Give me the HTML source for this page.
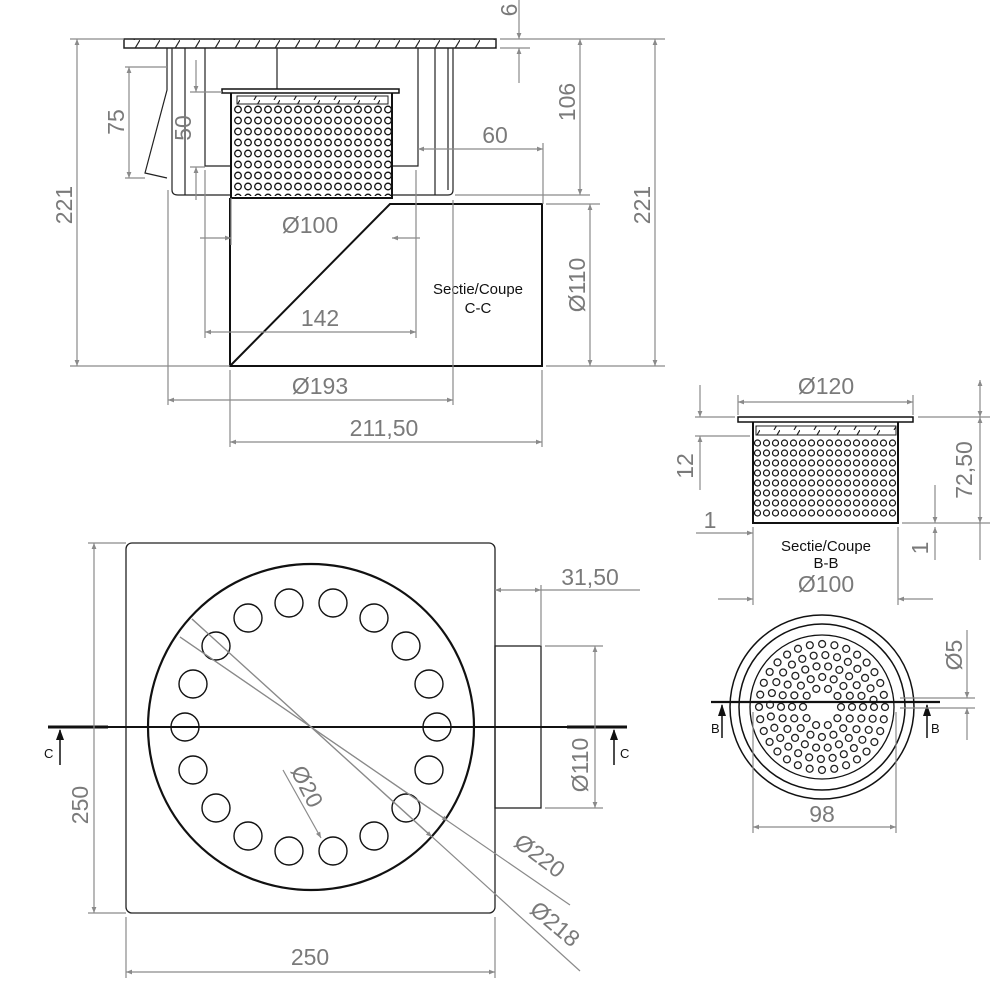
<!DOCTYPE html>
<html><head><meta charset="utf-8"><style>
html,body{margin:0;padding:0;background:#fff}
svg{display:block}
text{font-family:"Liberation Sans",sans-serif}
.d{stroke:#8a8a8a;stroke-width:1.2;fill:none}
.t{fill:#7a7a7a;font-size:23px}
.k{stroke:#111;stroke-width:2;fill:none}
.k1{stroke:#222;stroke-width:1.2;fill:none}
</style></head><body>
<svg width="1000" height="1000" viewBox="0 0 1000 1000" xmlns="http://www.w3.org/2000/svg">
<defs>
<marker id="a" viewBox="0 0 10 10" refX="10" refY="5" markerWidth="10" markerHeight="6" orient="auto-start-reverse" markerUnits="userSpaceOnUse"><path d="M0,1 L10,5 L0,9z" fill="#8a8a8a"/></marker>
<pattern id="perf" x="233" y="104" width="10" height="11" patternUnits="userSpaceOnUse"><circle cx="5" cy="5.5" r="3.3" fill="none" stroke="#111" stroke-width="1.3"/></pattern>
<pattern id="perf2" x="753" y="438" width="9" height="10" patternUnits="userSpaceOnUse"><circle cx="4.5" cy="5" r="3" fill="none" stroke="#111" stroke-width="1.2"/></pattern>
<pattern id="hatch" width="20" height="10" patternUnits="userSpaceOnUse"><path d="M14,10 L20,0" stroke="#222" stroke-width="1.2"/></pattern>
</defs>

<!-- ===== Section C-C ===== -->
<rect x="124" y="39" width="372" height="9" fill="url(#hatch)" stroke="#222" stroke-width="1.5"/>
<path class="k1" d="M167,48 L167,90 L145,173 L167,178 M172,48 L172,190 Q172,195 178,195 L230,195"/>
<path class="k1" d="M205,48 L205,166 L231,166 M418,48 L418,166 L392,166 M277,48 L277,90"/>
<path class="k1" d="M453,48 L453,190 Q453,195 448,195 L392,195 M448,48 L448,190"/>
<path class="k1" d="M185,48 L185,195 M435,48 L435,195"/>
<rect x="222" y="89" width="177" height="4" fill="#fff" stroke="#111" stroke-width="1.5"/>
<rect x="233" y="104" width="159" height="92" fill="url(#perf)"/>
<rect x="237" y="96" width="151" height="8" fill="url(#hatch)" stroke="#222" stroke-width="1"/>
<path class="k" d="M231,93 L231,198 L392,198 L392,93"/>
<path class="k" d="M230,198 L230,366 L542,366 L542,204 L390,204 L230,366"/>
<text x="478" y="294" font-size="15" fill="#111" text-anchor="middle">Sectie/Coupe</text>
<text x="478" y="313" font-size="15" fill="#111" text-anchor="middle">C-C</text>

<g class="d">
<path d="M70,39 L124,39 M70,366 L230,366 M500,39 L665,39 M546,366 L665,366"/>
<line x1="77" y1="39" x2="77" y2="366" marker-start="url(#a)" marker-end="url(#a)"/>
<line x1="655" y1="39" x2="655" y2="366" marker-start="url(#a)" marker-end="url(#a)"/>
<path d="M500,48 L530,48"/>
<line x1="519" y1="0" x2="519" y2="39" marker-end="url(#a)"/>
<line x1="519" y1="83" x2="519" y2="48" marker-end="url(#a)"/>
<path d="M125,67 L167,67 M125,178 L145,178"/>
<line x1="129" y1="67" x2="129" y2="178" marker-start="url(#a)" marker-end="url(#a)"/>
<path d="M190,92 L222,92 M190,167 L205,167"/>
<line x1="196" y1="60" x2="196" y2="92" marker-end="url(#a)"/>
<line x1="196" y1="200" x2="196" y2="167" marker-end="url(#a)"/>
<line x1="418" y1="149" x2="543" y2="149" marker-start="url(#a)" marker-end="url(#a)"/>
<path d="M543,143 L543,204 M455,195 L590,195 M546,204 L600,204"/>
<line x1="580" y1="39" x2="580" y2="195" marker-start="url(#a)" marker-end="url(#a)"/>
<line x1="590" y1="204" x2="590" y2="366" marker-start="url(#a)" marker-end="url(#a)"/>
<line x1="200" y1="238" x2="231" y2="238" marker-end="url(#a)"/>
<line x1="420" y1="238" x2="392" y2="238" marker-end="url(#a)"/>
<path d="M231,198 L231,245 M205,170 L205,338 M416,170 L416,338 M168,190 L168,405 M453,200 L453,405 M230,370 L230,447 M542,370 L542,447"/>
<line x1="205" y1="332" x2="416" y2="332" marker-start="url(#a)" marker-end="url(#a)"/>
<line x1="168" y1="400" x2="453" y2="400" marker-start="url(#a)" marker-end="url(#a)"/>
<line x1="230" y1="442" x2="542" y2="442" marker-start="url(#a)" marker-end="url(#a)"/>
</g>
<g class="t">
<text transform="translate(72,205) rotate(-90)" text-anchor="middle">221</text>
<text transform="translate(650,205) rotate(-90)" text-anchor="middle">221</text>
<text transform="translate(517,10) rotate(-90)" text-anchor="middle">6</text>
<text transform="translate(124,122) rotate(-90)" text-anchor="middle">75</text>
<text transform="translate(191,128) rotate(-90)" text-anchor="middle">50</text>
<text x="495" y="143" text-anchor="middle">60</text>
<text transform="translate(575,102) rotate(-90)" text-anchor="middle">106</text>
<text transform="translate(585,285) rotate(-90)" text-anchor="middle">Ø110</text>
<text x="310" y="233" text-anchor="middle">Ø100</text>
<text x="320" y="326" text-anchor="middle">142</text>
<text x="320" y="394" text-anchor="middle">Ø193</text>
<text x="384" y="436" text-anchor="middle">211,50</text>
</g>

<!-- ===== Plan ===== -->
<rect x="126" y="543" width="369" height="370" rx="6" fill="none" stroke="#222" stroke-width="1.3"/>
<rect x="495" y="646" width="46" height="162" fill="none" stroke="#222" stroke-width="1.3"/>
<circle cx="311" cy="727" r="163" fill="none" stroke="#111" stroke-width="2.2"/>
<g fill="none" stroke="#111" stroke-width="1.4">
<circle cx="437" cy="727" r="14"/><circle cx="429" cy="770" r="14"/><circle cx="406" cy="808" r="14"/><circle cx="374" cy="836" r="14"/><circle cx="333" cy="851" r="14"/><circle cx="289" cy="851" r="14"/><circle cx="248" cy="836" r="14"/><circle cx="216" cy="808" r="14"/><circle cx="193" cy="770" r="14"/><circle cx="185" cy="727" r="14"/><circle cx="193" cy="684" r="14"/><circle cx="216" cy="646" r="14"/><circle cx="248" cy="618" r="14"/><circle cx="289" cy="603" r="14"/><circle cx="333" cy="603" r="14"/><circle cx="374" cy="618" r="14"/><circle cx="406" cy="646" r="14"/><circle cx="429" cy="684" r="14"/>
</g>
<path d="M48,727 L627,727" stroke="#111" stroke-width="2"/>
<path d="M48,727 L108,727 M567,727 L627,727" stroke="#111" stroke-width="3"/>
<g stroke="#111" stroke-width="1.5"><path d="M60,765 L60,730 M614,765 L614,730"/></g>
<path d="M56,740 L60,729 L64,740z M610,740 L614,729 L618,740z" fill="#111"/>
<text x="44" y="758" font-size="13" fill="#111">C</text>
<text x="620" y="758" font-size="13" fill="#111">C</text>
<g class="d">
<path d="M88,543 L126,543 M88,913 L126,913 M126,917 L126,978 M495,917 L495,978"/>
<line x1="94" y1="543" x2="94" y2="913" marker-start="url(#a)" marker-end="url(#a)"/>
<line x1="126" y1="972" x2="495" y2="972" marker-start="url(#a)" marker-end="url(#a)"/>
<path d="M541,585 L541,646 M541,590 L640,590"/>
<line x1="495" y1="590" x2="541" y2="590" marker-start="url(#a)" marker-end="url(#a)"/>
<path d="M545,646 L603,646 M545,808 L603,808"/>
<line x1="595" y1="646" x2="595" y2="808" marker-start="url(#a)" marker-end="url(#a)"/>
<path d="M180,637 L570,905"/>
<line x1="180" y1="637" x2="448" y2="821" marker-end="url(#a)"/>
<path d="M192,619 L580,971"/>
<line x1="192" y1="619" x2="432" y2="837" marker-end="url(#a)"/>
<line x1="283" y1="770" x2="321" y2="838" marker-end="url(#a)"/>
</g>
<g class="t">
<text transform="translate(88,805) rotate(-90)" text-anchor="middle">250</text>
<text x="310" y="965" text-anchor="middle">250</text>
<text x="590" y="585" text-anchor="middle">31,50</text>
<text transform="translate(588,765) rotate(-90)" text-anchor="middle">Ø110</text>
<text transform="translate(535,862) rotate(37)" text-anchor="middle">Ø220</text>
<text transform="translate(550,930) rotate(40)" text-anchor="middle">Ø218</text>
<text transform="translate(300,790) rotate(63)" text-anchor="middle">Ø20</text>
</g>

<!-- ===== Section B-B ===== -->
<rect x="738" y="417" width="175" height="5" fill="#fff" stroke="#111" stroke-width="1.5"/>
<rect x="753" y="438" width="146" height="81" fill="url(#perf2)"/>
<rect x="756" y="426" width="140" height="9" fill="url(#hatch)" stroke="#222" stroke-width="1"/>
<path class="k" d="M753,422 L753,523 L898,523 L898,422"/>
<text x="826" y="551" font-size="15" fill="#111" text-anchor="middle">Sectie/Coupe</text>
<text x="826" y="568" font-size="15" fill="#111" text-anchor="middle">B-B</text>
<g class="d">
<path d="M738,395 L738,415 M913,395 L913,415"/>
<line x1="738" y1="402" x2="913" y2="402" marker-start="url(#a)" marker-end="url(#a)"/>
<path d="M695,417 L735,417 M695,436 L750,436 M918,417 L990,417 M902,523 L990,523"/>
<line x1="700" y1="385" x2="700" y2="417" marker-end="url(#a)"/>
<line x1="700" y1="490" x2="700" y2="436" marker-end="url(#a)"/>
<line x1="980" y1="380" x2="980" y2="417" marker-start="url(#a)" marker-end="url(#a)"/>
<line x1="980" y1="417" x2="980" y2="523" marker-start="url(#a)" marker-end="url(#a)"/>
<line x1="980" y1="523" x2="980" y2="560"/>
<line x1="935" y1="485" x2="935" y2="523" marker-end="url(#a)"/>
<line x1="935" y1="560" x2="935" y2="527" marker-end="url(#a)"/>
<line x1="696" y1="533" x2="753" y2="533" marker-end="url(#a)"/>
<path d="M753,527 L753,605 M898,527 L898,605"/>
<line x1="718" y1="599" x2="753" y2="599" marker-end="url(#a)"/>
<line x1="933" y1="599" x2="898" y2="599" marker-end="url(#a)"/>
</g>
<g class="t">
<text x="826" y="394" text-anchor="middle">Ø120</text>
<text transform="translate(693,466) rotate(-90)" text-anchor="middle">12</text>
<text transform="translate(972,470) rotate(-90)" text-anchor="middle">72,50</text>
<text x="710" y="528" text-anchor="middle">1</text>
<text transform="translate(928,548) rotate(-90)" text-anchor="middle">1</text>
<text x="826" y="592" text-anchor="middle">Ø100</text>
</g>

<!-- ===== Plan basket ===== -->
<circle cx="822" cy="707" r="92" fill="none" stroke="#111" stroke-width="1.5"/>
<circle cx="822" cy="707" r="83" fill="none" stroke="#111" stroke-width="1.5"/>
<circle cx="822" cy="707" r="72" fill="none" stroke="#111" stroke-width="1.3"/>
<g fill="none" stroke-linecap="round">
<g stroke="#222" stroke-width="8.2">
<circle cx="822" cy="707" r="63" stroke-dasharray="0 12.37"/>
<circle cx="822" cy="707" r="52" stroke-dasharray="0 11.82"/>
<circle cx="822" cy="707" r="41" stroke-dasharray="0 11.71"/>
<circle cx="822" cy="707" r="30" stroke-dasharray="0 11.78"/>
<circle cx="822" cy="707" r="19" stroke-dasharray="0 11.94"/>
</g>
<g stroke="#fff" stroke-width="5.6">
<circle cx="822" cy="707" r="63" stroke-dasharray="0 12.37"/>
<circle cx="822" cy="707" r="52" stroke-dasharray="0 11.82"/>
<circle cx="822" cy="707" r="41" stroke-dasharray="0 11.71"/>
<circle cx="822" cy="707" r="30" stroke-dasharray="0 11.78"/>
<circle cx="822" cy="707" r="19" stroke-dasharray="0 11.94"/>
</g>
</g>
<path d="M711,702 L940,702" stroke="#111" stroke-width="2.2"/>
<g stroke="#111" stroke-width="1.5"><path d="M722,738 L722,705 M927,738 L927,705"/></g>
<path d="M718,716 L722,704 L726,716z M923,716 L927,704 L931,716z" fill="#111"/>
<text x="711" y="733" font-size="13" fill="#111">B</text>
<text x="931" y="733" font-size="13" fill="#111">B</text>
<g class="d">
<path d="M753,712 L753,833 M896,712 L896,833 M900,698 L975,698 M900,708 L975,708"/>
<line x1="753" y1="827" x2="896" y2="827" marker-start="url(#a)" marker-end="url(#a)"/>
<line x1="967" y1="630" x2="967" y2="698" marker-end="url(#a)"/>
<line x1="967" y1="740" x2="967" y2="708" marker-end="url(#a)"/>
</g>
<g class="t">
<text x="822" y="822" text-anchor="middle">98</text>
<text transform="translate(962,655) rotate(-90)" text-anchor="middle">Ø5</text>
</g>
</svg>
</body></html>
